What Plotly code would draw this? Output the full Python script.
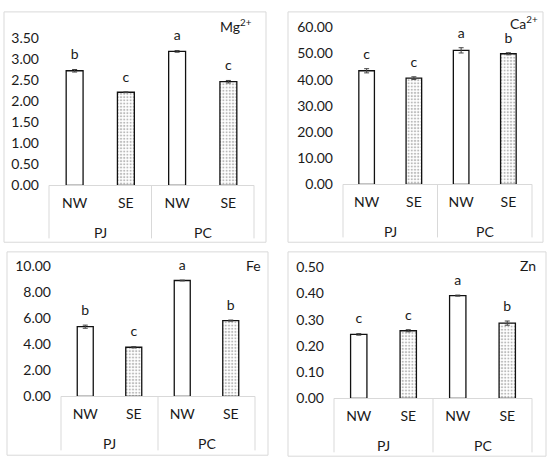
import plotly.graph_objects as go

W, H = 550, 469

sites = ["PJ", "PJ", "PC", "PC"]
aspects = ["NW", "SE", "NW", "SE"]
groups = ["PJ", "PC"]

mg = [2.72, 2.21, 3.18, 2.46]
mg_err = [0.03, 0.01, 0.02, 0.03]
mg_letters = ["b", "c", "a", "c"]

ca = [43.4, 40.6, 51.2, 49.9]
ca_err = [0.8, 0.5, 1.0, 0.4]
ca_letters = ["c", "c", "a", "b"]

fe = [5.36, 3.78, 8.91, 5.83]
fe_err = [0.12, 0.05, 0.03, 0.04]
fe_letters = ["b", "c", "a", "b"]

zn = [0.244, 0.258, 0.392, 0.287]
zn_err = [0.003, 0.004, 0.002, 0.008]
zn_letters = ["c", "c", "a", "b"]

titles = ["Mg<sup>2+</sup>", "Ca<sup>2+</sup>", "Fe", "Zn"]
y_max = [3.5, 60, 10, 0.5]
y_step = [0.5, 10, 2, 0.1]

FONT = "Lato"
TXT = "#1a1a1a"
GRID = "#d9d9d9"

def px_x(x):
    return x / W

def px_y(y):
    return 1 - y / H

# plot areas (left, right, top, bottom) and panel frames in px
areas = [(49, 254, 30, 183), (343, 532, 19, 182), (61, 255, 267, 402), (334, 532, 268, 404)]
frames = [(4, 266, 3, 242), (288, 543, 3, 242), (7, 268, 252, 463), (288, 546, 252, 464)]
title_pos = [(254, 17), (540, 14), (263, 266), (538, 266)]
box_depth = [55, 55, 56, 56]   # category box depth below axis, px

series = [(mg, mg_err, mg_letters), (ca, ca_err, ca_letters),
          (fe, fe_err, fe_letters), (zn, zn_err, zn_letters)]

keys = [s + " " + a for s, a in zip(sites, aspects)]
ncat = len(keys)

fig = go.Figure()
shapes = []
annotations = []
for i, ((vals, errs, lets), area, frame) in enumerate(zip(series, areas, frames)):
    n = "" if i == 0 else str(i + 1)
    xa, ya = "x" + n, "y" + n
    fig.add_trace(go.Bar(
        x=keys, y=vals, xaxis=xa, yaxis=ya,
        marker=dict(color="white", line=dict(color="#111", width=1.3),
                    pattern=dict(shape=["" if a == "NW" else "." for a in aspects],
                                 size=3.2, solidity=0.35, fgcolor="#777", bgcolor="white")),
        error_y=dict(type="data", array=errs, color="#444", thickness=1, width=2.5),
        showlegend=False, hoverinfo="skip",
    ))
    fig.add_trace(go.Scatter(
        x=keys, y=[v + e for v, e in zip(vals, errs)], xaxis=xa, yaxis=ya,
        mode="markers+text", text=lets, textposition="top center",
        marker=dict(size=9, opacity=0), cliponaxis=False,
        textfont=dict(family=FONT, size=14, color=TXT), showlegend=False, hoverinfo="skip",
    ))
    l, r, t, b = area
    ph = b - t
    fig.layout["xaxis" + n] = dict(
        domain=[px_x(l), px_x(r)], anchor=ya, type="category",
        categoryorder="array", categoryarray=keys,
        tickvals=keys, ticktext=aspects,
        showline=True, linecolor=GRID, linewidth=1, ticks="",
        ticklabelstandoff=5,
        tickfont=dict(family=FONT, size=14, color=TXT), range=[-0.5, ncat - 0.5],
    )
    nt = int(round(y_max[i] / y_step[i]))
    tv = [k * y_step[i] for k in range(nt + 1)]
    fig.layout["yaxis" + n] = dict(
        domain=[px_y(b), px_y(t)], anchor=xa, range=[0, y_max[i]],
        tickvals=tv, ticktext=["%.2f" % v for v in tv],
        showgrid=False, zeroline=False, showline=False, ticks="",
        ticklabelstandoff=9,
        tickfont=dict(family=FONT, size=14, color=TXT),
    )
    # group labels and divider lines of the two-level category axis
    bounds = [0]
    for g in groups:
        idx = [k for k, s in enumerate(sites) if s == g]
        cx = (sum(idx) / len(idx) + 0.5) / ncat
        annotations.append(dict(text=g, xref=xa + " domain", yref=ya + " domain",
                                x=cx, y=0, yshift=-47, xanchor="center", yanchor="middle",
                                showarrow=False, font=dict(family=FONT, size=14, color=TXT)))
        bounds.append((max(idx) + 1) / ncat)
    for bx in bounds:
        shapes.append(dict(type="line", xref=xa + " domain", yref=ya + " domain",
                           x0=bx, x1=bx, y0=0, y1=-box_depth[i] / ph,
                           line=dict(color=GRID, width=1)))
    fl, fr, ft, fb = frame
    shapes.append(dict(type="rect", xref="paper", yref="paper",
                       x0=px_x(fl), x1=px_x(fr), y0=px_y(fb), y1=px_y(ft),
                       line=dict(color=GRID, width=1)))
    tx, ty = title_pos[i]
    annotations.append(dict(text=titles[i], xref="paper", yref="paper",
                            x=px_x(tx), y=px_y(ty), xanchor="right", yanchor="middle",
                            showarrow=False, font=dict(family=FONT, size=14, color=TXT)))

fig.update_layout(
    width=W, height=H, margin=dict(l=0, r=0, t=0, b=0),
    paper_bgcolor="white", plot_bgcolor="white",
    bargap=0.67, shapes=shapes, annotations=annotations,
    font=dict(family=FONT, color=TXT),
)
fig.write_html("out.html", config={"displayModeBar": False},
               post_script="document.body.style.margin='0';document.body.style.overflow='hidden';")
